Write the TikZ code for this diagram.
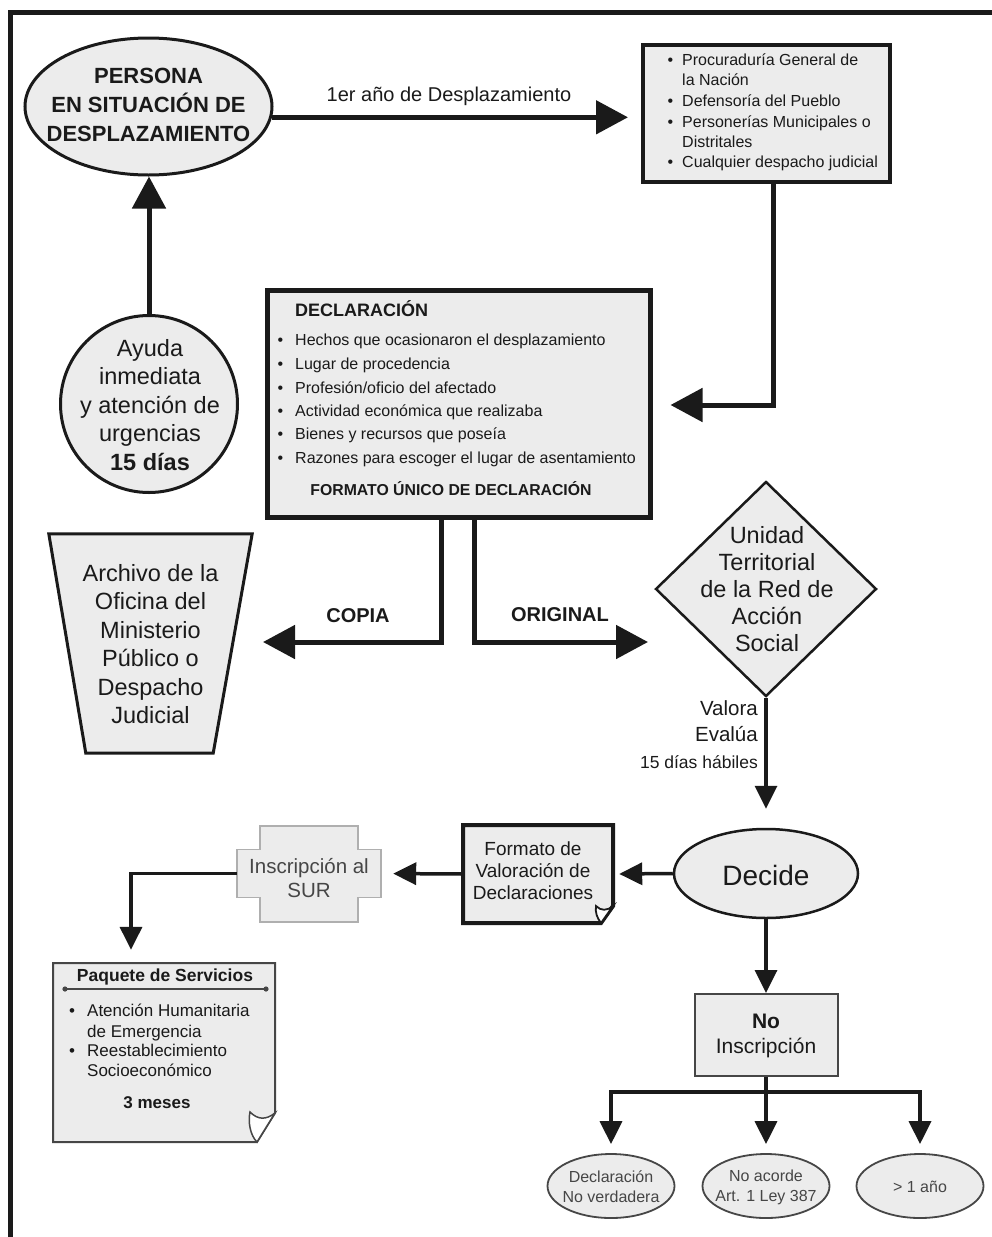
\documentclass[tikz,border=0pt]{standalone}
\usepackage{fontspec}
\setmainfont{Liberation Sans}
\usetikzlibrary{arrows.meta,shapes.geometric,calc}
\definecolor{gfill}{RGB}{236,236,236}
\definecolor{ink}{RGB}{26,26,26}
\definecolor{mid}{RGB}{70,70,70}
\definecolor{pale}{RGB}{175,175,175}
\newcommand{\fsz}[2]{\fontsize{#1}{#2}\selectfont}
\newcommand{\bul}[1]{\llap{\textbullet\hspace{#1}}}
\begin{document}
\begin{tikzpicture}[x=1pt,y=-1pt,line join=miter,
  txt/.style={inner sep=0pt, text=ink},
  lbl/.style={inner sep=0pt, text height=.72em, text depth=.2em, text=ink},
  big/.style={draw=ink, line width=5pt, -{Triangle[length=32pt,width=33pt]}},
  med/.style={draw=ink, line width=3.5pt, -{Triangle[length=23pt,width=22pt]}},
  shapebox/.style={draw=ink, fill=gfill, inner sep=0pt}]
\useasboundingbox (0,0) rectangle (992,1237);
% frame
\draw[ink, line width=5pt] (10.5,1237) -- (10.5,12) -- (992,12);

% persona
\node[ellipse, shapebox, line width=3pt, minimum width=247pt, minimum height=137pt] (persona) at (148.5,106.5) {};
\node[txt, align=center, font=\bfseries\fsz{22}{29}] (personatxt) at (148.5,105) {PERSONA\\EN SITUACIÓN DE\\DESPLAZAMIENTO};

% procuraduria box
\node[rectangle, shapebox, line width=4pt, minimum width=247pt, minimum height=137pt] (proc) at (766.5,113.5) {};
\node[lbl, anchor=west, font=\fsz{16}{20}] (p1) at (682,63) {\bul{9pt}Procuraduría General de};
\node[lbl, anchor=west, font=\fsz{16}{20}] (p2) at (682,83) {la Nación};
\node[lbl, anchor=west, font=\fsz{16}{20}] (p3) at (682,104) {\bul{9pt}Defensoría del Pueblo};
\node[lbl, anchor=west, font=\fsz{16}{20}] (p4) at (682,125) {\bul{9pt}Personerías Municipales o};
\node[lbl, anchor=west, font=\fsz{16}{20}] (p5) at (682,145) {Distritales};
\node[lbl, anchor=west, font=\fsz{16}{20}] (p6) at (682,165) {\bul{9pt}Cualquier despacho judicial};

% arrow persona -> proc
\draw[big, shorten >=13pt] (persona.-5) -- (persona.-5 -| proc.west);
\node[lbl, font=\fsz{20}{24}] (lab1) at (449,99) {1er año de Desplazamiento};

% ayuda
\node[circle, shapebox, line width=3pt, minimum size=177pt] (ayuda) at (149,404) {};
\node[txt, align=center, font=\fsz{23.5}{28.5}] (ayudatxt) at (150,405) {Ayuda\\inmediata\\y atención de\\urgencias\\\textbf{15 días}};
\draw[big] (ayuda.north) -- (ayuda.north |- persona.south);

% declaracion
\node[rectangle, shapebox, line width=5pt, minimum width=383pt, minimum height=227pt] (decl) at (458.5,403.5) {};
\node[lbl, anchor=west, font=\bfseries\fsz{18}{20}] (d0) at (295,314) {DECLARACIÓN};
\node[lbl, anchor=west, font=\fsz{16}{20}] (d1) at (295,343) {\bul{12pt}Hechos que ocasionaron el desplazamiento};
\node[lbl, anchor=west, font=\fsz{16}{20}] (d2) at (295,367) {\bul{12pt}Lugar de procedencia};
\node[lbl, anchor=west, font=\fsz{16}{20}] (d3) at (295,391) {\bul{12pt}Profesión/oficio del afectado};
\node[lbl, anchor=west, font=\fsz{16}{20}] (d4) at (295,414) {\bul{12pt}Actividad económica que realizaba};
\node[lbl, anchor=west, font=\fsz{16}{20}] (d5) at (295,437) {\bul{12pt}Bienes y recursos que poseía};
\node[lbl, anchor=west, font=\fsz{16}{20}] (d6) at (295,461) {\bul{12pt}Razones para escoger el lugar de asentamiento};
\node[lbl, font=\bfseries\fsz{15.8}{18}] (d7) at (451,493) {FORMATO ÚNICO DE DECLARACIÓN};

% proc -> decl
\coordinate (pd) at (773,405);
\draw[big, shorten >=18pt] (proc.south -| pd) |- (decl.east |- pd);

% archive
\node[rectangle, inner sep=0pt, minimum width=203pt, minimum height=219pt] (archive) at (150.5,643.5) {};
\draw[ink, fill=gfill, line width=3pt] (archive.north west) -- (archive.north east) -- ($(archive.south east)+(-39,0)$) -- ($(archive.south west)+(37,0)$) -- cycle;
\node[txt, align=center, font=\fsz{23.5}{28.5}] (archivetxt) at (150.5,644) {Archivo de la\\Oficina del\\Ministerio\\Público o\\Despacho\\Judicial};

% copia / original
\coordinate (cc) at (441,0);
\coordinate (copiaend) at (263,642);
\draw[big] (decl.south -| cc) |- (copiaend);
\coordinate (oc) at (474,0);
\coordinate (origend) at (648,642);
\draw[big] (decl.south -| oc) |- (origend);
\node[lbl, font=\bfseries\fsz{20}{24}] (copia) at (358,620) {COPIA};
\node[lbl, font=\bfseries\fsz{20}{24}] (original) at (560,619) {ORIGINAL};

% unidad
\node[diamond, shapebox, line width=2.5pt, minimum width=221pt, minimum height=215pt] (unidad) at (766,589) {};
\node[txt, align=center, font=\fsz{23.5}{27}] (unidadtxt) at (767,589) {Unidad\\Territorial\\de la Red de\\Acción\\Social};
\node[lbl, anchor=east, font=\fsz{20.5}{24}] (valora) at (758,713) {Valora};
\node[lbl, anchor=east, font=\fsz{20.5}{24}] (evalua) at (758,739) {Evalúa};
\node[lbl, anchor=east, font=\fsz{17.5}{20}] (dias) at (758,766) {15 días hábiles};

% decide
\node[ellipse, shapebox, line width=2.5pt, minimum width=184pt, minimum height=89pt] (decide) at (766,873.5) {};
\node[txt, font=\fsz{28}{32}] (decidetxt) at (766,875) {Decide};
\draw[med, shorten >=19pt] (unidad.south) -- (decide.north);

% formato
\node[rectangle, inner sep=0pt, minimum width=150pt, minimum height=98pt] (formato) at (538,874) {};
\draw[ink, fill=gfill, line width=4pt] (463,825) -- (613,825) -- (613,906) -- (601,923) -- (463,923) -- cycle;
\draw[ink, fill=white, line width=1.8pt] (596,906) .. controls (601,911) and (607,911) .. (613,906) -- (601,923) .. controls (597,918) and (595,912) .. (596,906) -- cycle;
\node[txt, align=center, font=\fsz{19}{22}] (formatotxt) at (533,871) {Formato de\\Valoración de\\Declaraciones};
\draw[med, shorten >=6pt] (decide.west) -- (formato.east);

% sur cross
\node[rectangle, inner sep=0pt, minimum width=144pt, minimum height=48pt] (sur) at (309,873.5) {};
\draw[pale, fill=gfill, line width=1.5pt] (260,826) -- (358,826) -- (358,849.5) -- (381,849.5) -- (381,897.5) -- (358,897.5) -- (358,922) -- (260,922) -- (260,897.5) -- (237,897.5) -- (237,849.5) -- (260,849.5) -- cycle;
\node[txt, align=center, font=\fsz{20.5}{24}, text=mid] (surtxt) at (309,878) {Inscripción al\\SUR};
\draw[med, shorten >=12pt] (formato.west) -- (sur.east);

% paquete
\node[rectangle, inner sep=0pt, minimum width=222pt, minimum height=179pt] (paquete) at (164,1052.5) {};
\coordinate (pk) at (131,0);
\draw[med, shorten >=13pt] (sur.west) -| (paquete.north -| pk);
\draw[mid, fill=gfill, line width=2pt] (53,963) -- (275,963) -- (275,1113) -- (257,1142) -- (53,1142) -- cycle;
\draw[mid, fill=white, line width=1.5pt] (250,1112) .. controls (258,1120) and (266,1120) .. (275,1113) -- (257,1142) .. controls (250,1135) and (248,1122) .. (250,1112) -- cycle;
\node[lbl, font=\bfseries\fsz{17.5}{20}] (pktitle) at (165,979) {Paquete de Servicios};
\draw[mid, line width=1.6pt] (65,989) -- (266,989);
\fill[mid] (65,989) circle (2.6) (266,989) circle (2.6);
\node[lbl, anchor=west, font=\fsz{17}{20}] (k1) at (87,1014) {\bul{12pt}Atención Humanitaria};
\node[lbl, anchor=west, font=\fsz{17}{20}] (k2) at (87,1035) {de Emergencia};
\node[lbl, anchor=west, font=\fsz{17}{20}] (k3) at (87,1054) {\bul{12pt}Reestablecimiento};
\node[lbl, anchor=west, font=\fsz{17}{20}] (k4) at (87,1074) {Socioeconómico};
\node[lbl, font=\bfseries\fsz{17}{20}] (k5) at (157,1106) {3 meses};

% no inscripcion
\node[rectangle, draw=mid, fill=gfill, line width=2pt, minimum width=143pt, minimum height=82pt, inner sep=0pt] (noins) at (766,1035) {};
\node[txt, align=center, font=\fsz{21}{25.5}] (noinstxt) at (766,1036) {\textbf{No}\\Inscripción};
\draw[med] (decide.south) -- (noins.north);

% outcomes
\node[ellipse, draw=mid, fill=gfill, line width=1.8pt, minimum width=127pt, minimum height=64pt, inner sep=0pt] (e1) at (611,1186) {};
\node[ellipse, draw=mid, fill=gfill, line width=1.8pt, minimum width=127pt, minimum height=64pt, inner sep=0pt] (e2) at (766,1186) {};
\node[ellipse, draw=mid, fill=gfill, line width=1.8pt, minimum width=127pt, minimum height=64pt, inner sep=0pt] (e3) at (920,1186) {};
\node[txt, align=center, font=\fsz{16}{20}, text=mid] (e1txt) at (611,1187) {Declaración\\No verdadera};
\node[txt, align=center, font=\fsz{16}{20}, text=mid] (e2txt) at (766,1187) {No acorde\\Art. 1 Ley 387};
\node[txt, align=center, font=\fsz{16}{20}, text=mid] (e3txt) at (920,1187) {> 1 año};
\coordinate (split) at (766,1092);
\draw[med, shorten >=9pt] (noins.south) |- (split) -| (e1.north);
\draw[med, shorten >=9pt] (noins.south) -- (e2.north);
\draw[med, shorten >=9pt] (noins.south) |- (split) -| (e3.north);
\end{tikzpicture}
\end{document}
